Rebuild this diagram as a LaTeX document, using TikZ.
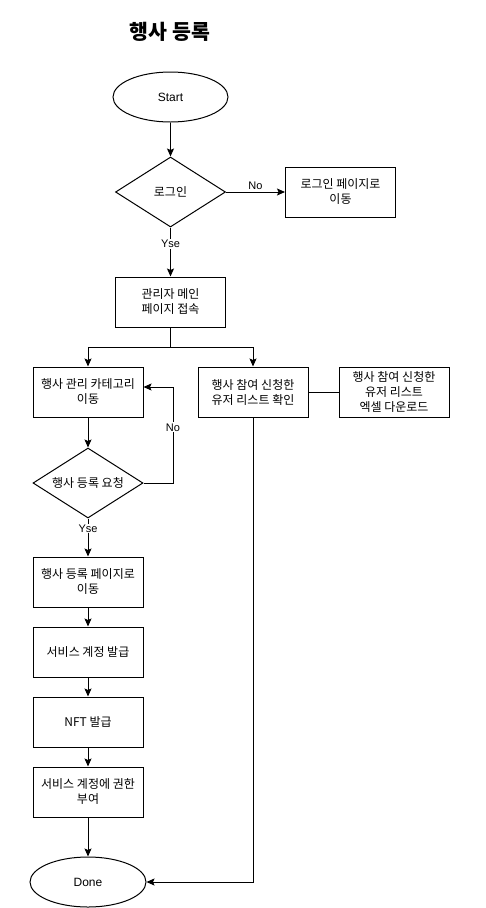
\documentclass[tikz,border=0pt]{standalone}
\usepackage{fontspec}
\setmainfont{Liberation Sans}
\newfontfamily\krfont{Noto Sans CJK KR}
\usetikzlibrary{arrows.meta}
\usetikzlibrary{shapes.geometric}
\tikzset{
 krtext/.style={font=\krfont\fontsize{12}{15}\selectfont,align=center},
 boite/.style={draw,krtext,minimum width=110pt,minimum height=50pt,inner sep=1pt},
 losange/.style={draw,diamond,krtext,minimum width=110pt,minimum height=70pt,aspect=1.57,inner sep=0pt},
 ovale/.style={draw,ellipse,minimum width=115pt,minimum height=50pt,font=\fontsize{12}{15}\selectfont},
 etiq/.style={fill=white,inner sep=1pt,font=\fontsize{11}{13}\selectfont},
}
\begin{document}
\begin{tikzpicture}[x=1pt,y=-1pt,line width=1pt,>={Stealth[length=8pt,width=7pt,inset=1.5pt]}]
\useasboundingbox (0,0) rectangle (485,908);
%titre
 \node[font=\krfont\bfseries\fontsize{20.5}{24}\selectfont] (titre) at (170,32) {행사 등록};
%colonne du haut
 \node[ovale] (start) at (170.5,97) {Start};
 \node[losange] (login) at (170.5,192) {로그인};
 \node[boite] (loginpg) at (340.5,192) {로그인 페이지로\\이동};
 \node[boite] (main) at (170.5,302) {관리자 메인\\페이지 접속};
 \coordinate (split) at (170.5,347);
%colonne gauche
 \node[boite] (cat) at (88,392) {행사 관리 카테고리\\이동};
 \node[losange] (req) at (88,483) {행사 등록 요청};
 \coordinate (looptop) at (173,387);
 \node[boite] (regpg) at (88,582) {행사 등록 페이지로\\이동};
 \node[boite] (svc) at (88,652) {서비스 계정 발급};
 \node[boite] (nft) at (88,722) {NFT 발급};
 \node[boite] (perm) at (88,792) {서비스 계정에 권한\\부여};
 \node[ovale,minimum width=116pt] (done) at (88,882) {Done};
%colonne droite
 \node[boite] (list) at (253,392) {행사 참여 신청한\\유저 리스트 확인};
 \node[boite] (excel) at (394,392) {행사 참여 신청한\\유저 리스트\\엑셀 다운로드};
%fleches
 \draw[->] (start) -- (login);
 \draw[->] (login) -- node[above,font=\fontsize{11}{13}\selectfont,pos=0.5,yshift=-1pt] {No} (loginpg);
 \draw[->] (login) -- node[etiq,pos=0.34] {Yse} (main);
 \draw[->] (main.south) -- (split) -| (cat);
 \draw[->] (split) -| (list);
 \draw (list) -- (excel);
 \draw[->] (cat) -- (req);
 \draw[->] (req.east) -| node[etiq,pos=0.79] {No} (looptop) -- (cat.east |- looptop);
 \draw[->] (req) -- node[etiq,pos=0.26] {Yse} (regpg);
 \draw[->] (regpg) -- (svc);
 \draw[->] (svc) -- (nft);
 \draw[->] (nft) -- (perm);
 \draw[->] (perm) -- (done);
 \draw[->] (list.south) |- (done.east);
\end{tikzpicture}
\end{document}
